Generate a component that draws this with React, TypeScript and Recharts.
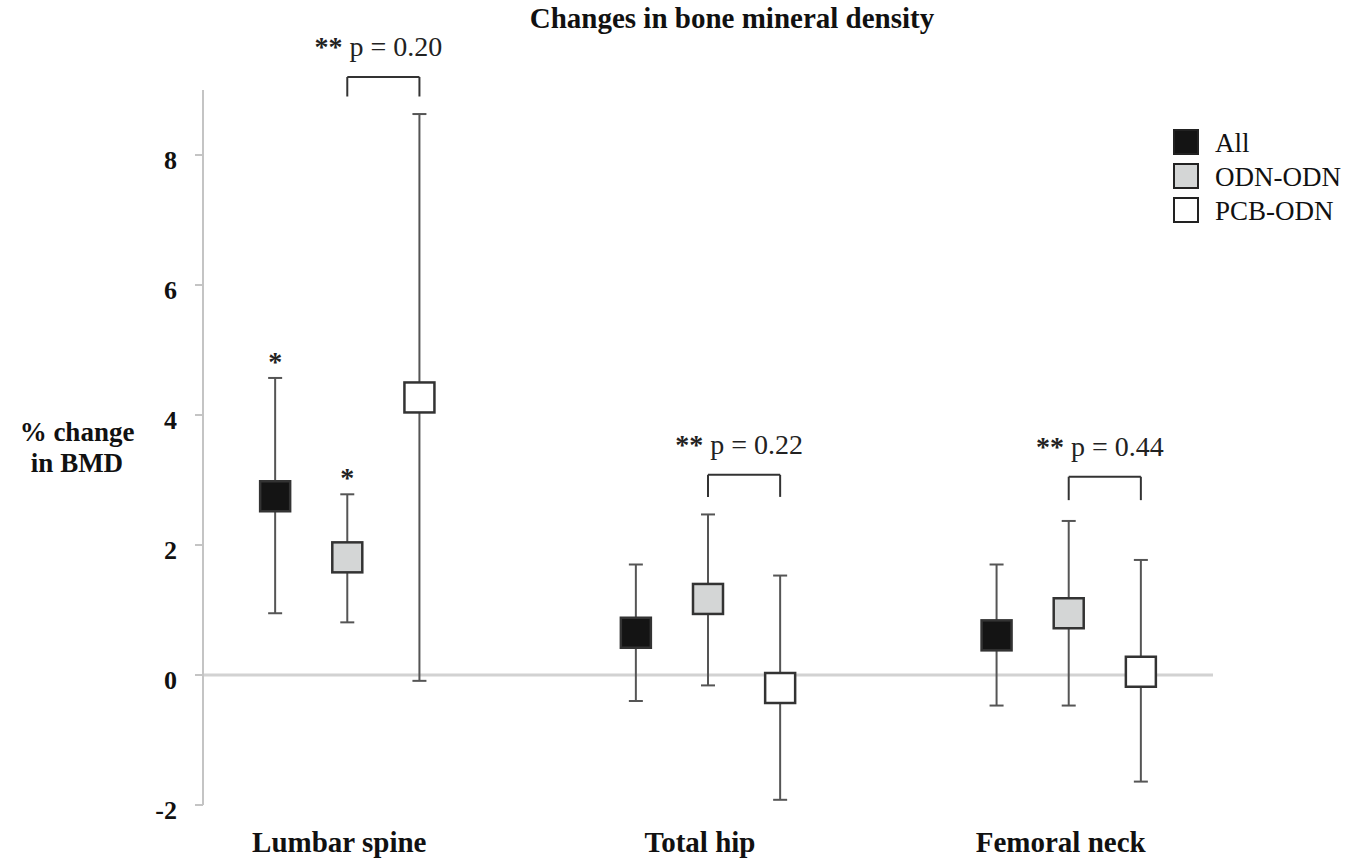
import React from "react";
import { ComposedChart, Scatter, ErrorBar, XAxis, YAxis, ReferenceLine, ReferenceDot } from "recharts";

const sites = ["Lumbar spine", "Total hip", "Femoral neck"];
const groups = ["All", "ODN-ODN", "PCB-ODN"];

// mean % change and the ends of each error bar
const allMean = [2.75, 0.65, 0.61];
const allLow = [0.95, -0.4, -0.47];
const allHigh = [4.57, 1.7, 1.7];

const odnMean = [1.81, 1.17, 0.95];
const odnLow = [0.81, -0.16, -0.47];
const odnHigh = [2.78, 2.47, 2.37];

const pcbMean = [4.27, -0.2, 0.05];
const pcbLow = [-0.09, -1.92, -1.64];
const pcbHigh = [8.63, 1.53, 1.77];

// single-star markers (significant change from baseline)
const allStar = [true, false, false];
const odnStar = [true, false, false];

// ODN-ODN vs PCB-ODN comparison
const pValues = ["0.20", "0.22", "0.44"];
const bracketTop = [9.2, 3.08, 3.05];
const bracketBottom = [8.9, 2.74, 2.69];

const yTicks = [-2, 0, 2, 4, 6, 8];

const serif = '"Liberation Serif", "Times New Roman", serif';
const groupOffsets = [-0.2, 0, 0.2];
const groupFills = ["#141414", "#d4d6d6", "#ffffff"];

function buildRows(means: number[], lows: number[], highs: number[], g: number) {
  return means.map((m, i) => ({
    x: i + groupOffsets[g],
    y: m,
    err: [m - lows[i], highs[i] - m],
  }));
}

const series = [
  buildRows(allMean, allLow, allHigh, 0),
  buildRows(odnMean, odnLow, odnHigh, 1),
  buildRows(pcbMean, pcbLow, pcbHigh, 2),
];

const starRows = [
  ...allStar.map((s, i) => (s ? { x: i + groupOffsets[0], y: allHigh[i] } : null)),
  ...odnStar.map((s, i) => (s ? { x: i + groupOffsets[1], y: odnHigh[i] } : null)),
].filter(Boolean);

const makeSquare = (fill: string) => (props: any) => (
  <rect
    x={props.cx - 15}
    y={props.cy - 15}
    width={30}
    height={30}
    fill={fill}
    stroke="#333"
    strokeWidth={2.5}
  />
);

const Star = (props: any) => (
  <text x={props.cx} y={props.cy - 7} textAnchor="middle" fontFamily={serif} fontWeight="bold" fontSize={28} fill="#222">
    *
  </text>
);

const SiteTick = ({ x, y, payload }: any) => (
  <text x={x - 8} y={y + 47} textAnchor="middle" fontFamily={serif} fontWeight="bold" fontSize={29} fill="#111">
    {sites[payload.value]}
  </text>
);

const ValueTick = ({ x, y, payload }: any) => (
  <text x={x} y={y + 14} textAnchor="end" fontFamily={serif} fontWeight="bold" fontSize={26} fill="#111">
    {payload.value}
  </text>
);

export default function App() {
  return (
    <div style={{ position: "absolute", left: 0, top: 0, width: 1356, height: 863, background: "#fff", fontFamily: serif }}>
      <div
        style={{
          position: "absolute",
          left: 0,
          width: 1464,
          top: 4,
          textAlign: "center",
          fontSize: 29,
          lineHeight: "29px",
          fontWeight: "bold",
          color: "#111",
        }}
      >
        Changes in bone mineral density
      </div>

      <div
        style={{
          position: "absolute",
          left: 0,
          width: 154,
          top: 417,
          textAlign: "center",
          fontSize: 27,
          lineHeight: "31px",
          fontWeight: "bold",
          color: "#111",
        }}
      >
        % change
        <br />
        in BMD
      </div>

      <div style={{ position: "absolute", left: 1173, top: 125 }}>
        {groups.map((g, i) => (
          <div key={g} style={{ display: "flex", alignItems: "center", height: 34 }}>
            <div
              style={{
                width: 22,
                height: 22,
                border: "2px solid #222",
                background: groupFills[i],
                marginRight: 16,
              }}
            />
            <span style={{ fontSize: 27, lineHeight: "34px", color: "#111", paddingTop: 2 }}>{g}</span>
          </div>
        ))}
      </div>

      <ComposedChart width={1356} height={863} margin={{ top: 90, right: 143, bottom: 0, left: 0 }}>
        <XAxis
          type="number"
          dataKey="x"
          domain={[-0.4, 2.4]}
          ticks={[0, 1, 2]}
          axisLine={false}
          tickLine={false}
          tickSize={0}
          tickMargin={0}
          height={58}
          tick={<SiteTick />}
        />
        <YAxis
          type="number"
          dataKey="y"
          domain={[-2, 9]}
          ticks={yTicks}
          width={203}
          axisLine={{ stroke: "#c4c4c4", strokeWidth: 2 }}
          tickLine={{ stroke: "#c4c4c4", strokeWidth: 2 }}
          tickSize={8}
          tickMargin={18}
          tick={<ValueTick />}
        />
        <ReferenceLine y={0} stroke="#d2d2d2" strokeWidth={3} />

        {series.map((rows, g) => (
          <Scatter key={groups[g]} name={groups[g]} data={rows} shape={makeSquare(groupFills[g])} isAnimationActive={false}>
            <ErrorBar dataKey="err" direction="y" width={7} stroke="#555" strokeWidth={2} />
          </Scatter>
        ))}

        <Scatter data={starRows} shape={<Star />} isAnimationActive={false} legendType="none" />

        {pValues.map((p, i) => (
          <React.Fragment key={p + i}>
            <ReferenceLine
              segment={[{ x: i + groupOffsets[1], y: bracketBottom[i] }, { x: i + groupOffsets[1], y: bracketTop[i] }]}
              stroke="#333"
              strokeWidth={2}
              ifOverflow="visible"
            />
            <ReferenceLine
              segment={[{ x: i + groupOffsets[1], y: bracketTop[i] }, { x: i + groupOffsets[2], y: bracketTop[i] }]}
              stroke="#333"
              strokeWidth={2}
              ifOverflow="visible"
            />
            <ReferenceLine
              segment={[{ x: i + groupOffsets[2], y: bracketBottom[i] }, { x: i + groupOffsets[2], y: bracketTop[i] }]}
              stroke="#333"
              strokeWidth={2}
              ifOverflow="visible"
            />
            <ReferenceDot
              x={i + 0.1}
              y={bracketTop[i]}
              r={0}
              ifOverflow="visible"
              shape={(props: any) => (
                <text x={props.cx - 5} y={props.cy - 21} textAnchor="middle" fontFamily={serif} fontSize={28} fill="#222">
                  <tspan fontWeight="bold">**</tspan> p = {p}
                </text>
              )}
            />
          </React.Fragment>
        ))}
      </ComposedChart>
    </div>
  );
}
